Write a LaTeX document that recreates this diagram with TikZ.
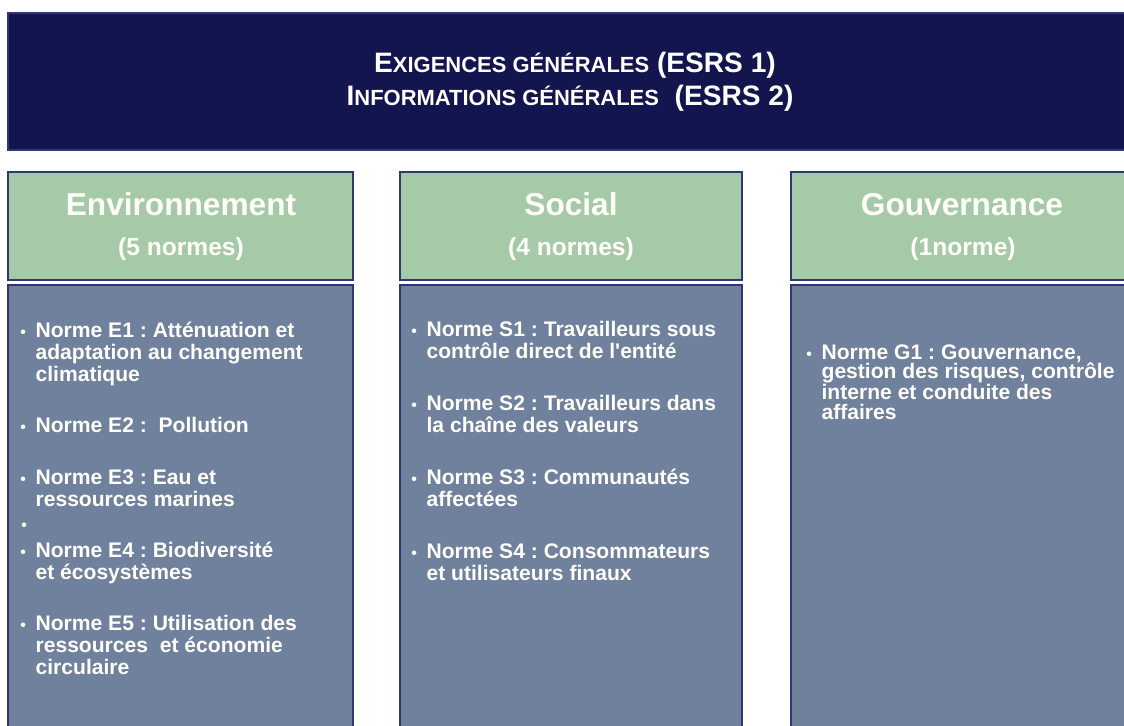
\documentclass[tikz,border=0pt]{standalone}
\usepackage{fontspec}
\setmainfont{Liberation Sans}
\definecolor{nuit}{RGB}{18,21,78}
\definecolor{vert}{RGB}{166,202,168}
\definecolor{ardoise}{RGB}{111,129,157}
\definecolor{trait}{RGB}{48,54,112}
\definecolor{blanc}{RGB}{255,254,248}
\newcommand{\petit}[1]{{\fontsize{12.5}{15}\selectfont #1}}
\newcommand{\puce}{\llap{{\fontsize{9}{9}\selectfont •}\hspace{5.5pt}}}
\frenchspacing

\begin{document}
\begin{tikzpicture}
[x=0.02cm, y=-0.02cm, line width=0.7pt, text=blanc,
bandeau/.style={rectangle, draw=trait, fill=nuit, inner sep=0pt, minimum width=22.44cm, minimum height=2.74cm},
entete/.style={rectangle, draw=trait, fill=vert, inner sep=0pt, minimum height=2.16cm},
corps/.style={rectangle, draw=trait, fill=ardoise, inner sep=0pt, minimum height=9cm},
ligne/.style={anchor=base, inner sep=0pt, font=\bfseries\fontsize{16}{19}\selectfont},
titre/.style={anchor=base, inner sep=0pt, font=\bfseries\fontsize{18}{22}\selectfont},
nombre/.style={anchor=base, inner sep=0pt, font=\bfseries\fontsize{14}{17}\selectfont},
norme/.style={anchor=base west, align=left, inner sep=0pt, font=\bfseries\fontsize{12}{12.5}\selectfont}]

\useasboundingbox (0,0) rectangle (1124,725);

\node[bandeau] (haut) at (569,81.5) {};
\node[ligne] (exig) at (575,72) {E\petit{XIGENCES GÉNÉRALES} (ESRS 1)};
\node[ligne] (info) at (570,105) {I\petit{NFORMATIONS GÉNÉRALES}\ \ (ESRS 2)};

\node[entete, minimum width=6.9cm] (env) at (180.5,226) {};
\node[entete, minimum width=6.84cm] (soc) at (571,226) {};
\node[entete, minimum width=6.88cm] (gouv) at (963,226) {};
\node[corps, minimum width=6.9cm] (envc) at (180.5,510) {};
\node[corps, minimum width=6.84cm] (socc) at (571,510) {};
\node[corps, minimum width=6.88cm] (gouvc) at (963,510) {};

\node[titre] (envt) at (181,215) {Environnement};
\node[nombre] (envn) at (181,255) {(5 normes)};
\node[titre] (soct) at (571,215) {Social};
\node[nombre] (socn) at (571,255) {(4 normes)};
\node[titre] (gouvt) at (962,215) {Gouvernance};
\node[nombre] (gouvn) at (963,255) {(1norme)};

\node[norme] (e1) at (35,381) {\puce Norme E1 : Atténuation et\\adaptation au changement\\climatique};
\node[norme] (e2) at (35,432) {\puce Norme E2 :\ \ Pollution};
\node[norme] (e3) at (35,506) {\puce Norme E3 : Eau et\\ressources marines};
\node[norme] (e0) at (35,530) {\puce};
\node[norme] (e4) at (35,579) {\puce Norme E4 : Biodiversité\\et écosystèmes};
\node[norme] (e5) at (35,674) {\puce Norme E5 : Utilisation des\\ressources\ \ et économie\\circulaire};

\node[norme] (s1) at (426,358) {\puce Norme S1 : Travailleurs sous\\contrôle direct de l\textquotesingle entité};
\node[norme] (s2) at (426,432) {\puce Norme S2 : Travailleurs dans\\la chaîne des valeurs};
\node[norme] (s3) at (426,506) {\puce Norme S3 : Communautés\\affectées};
\node[norme] (s4) at (426,580) {\puce Norme S4 : Consommateurs\\et utilisateurs finaux};

\node[norme, font=\bfseries\fontsize{12}{10.9}\selectfont] (g1) at (821,419) {\puce Norme G1 : Gouvernance,\\gestion des risques, contrôle\\interne et conduite des\\affaires};
\end{tikzpicture}
\end{document}
